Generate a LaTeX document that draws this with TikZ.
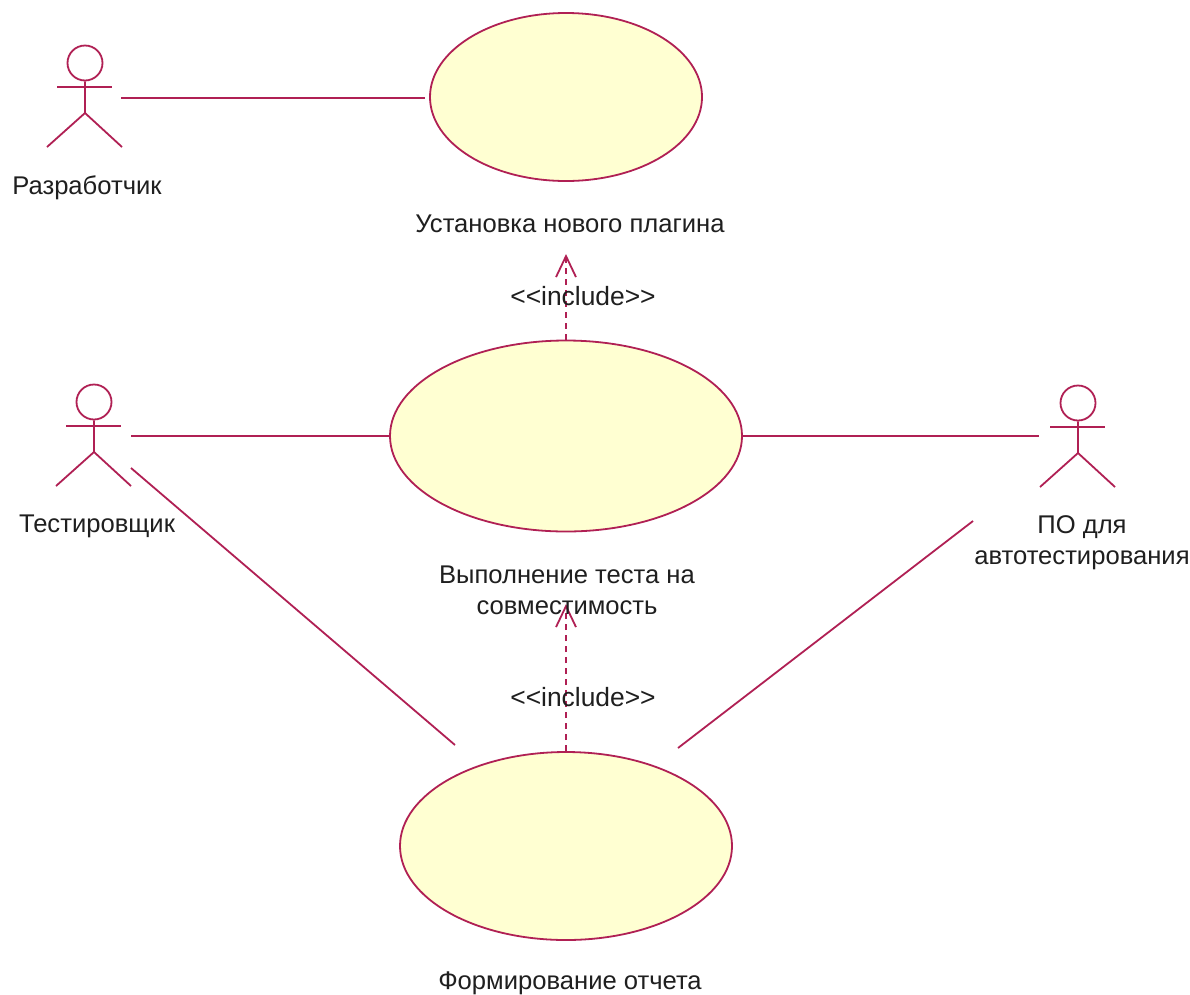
\documentclass[tikz,border=0pt]{standalone}
\usepackage{fontspec}
\setmainfont{Liberation Sans}
\usetikzlibrary{arrows.meta,shapes.geometric}
\definecolor{umlline}{RGB}{176,32,84}
\definecolor{umlfill}{RGB}{255,255,210}
\tikzset{
  usecase/.style={ellipse,draw=umlline,fill=umlfill,line width=1.8pt,inner sep=0pt},
  actorline/.style={draw=umlline,line width=1.8pt},
  assoc/.style={draw=umlline,line width=1.8pt},
  incl/.style={draw=umlline,line width=1.8pt,dash pattern=on 6pt off 5pt,-{Straight Barb[length=21pt,width=20pt,line width=1.8pt]}},
  lbl/.style={font=\fontsize{25.6}{31}\selectfont,text=black!88,align=center,inner sep=0pt},
  incllbl/.style={lbl,font=\fontsize{26.4}{31}\selectfont}
}
\newcommand{\umlactor}[2]{%
  \begin{scope}[shift={(#1)}]
    \node[name=#2head,circle,actorline,minimum size=35pt,inner sep=0pt] at (0,0) {};
    \draw[actorline] (#2head.south) -- (0,50) -- (-38,84);
    \draw[actorline] (0,50) -- (37,84);
    \draw[actorline] (-28,24) -- (27,24);
  \end{scope}}
\begin{document}
\begin{tikzpicture}[x=1pt,y=-1pt]
\useasboundingbox (0,0) rectangle (1190,994);
\fill[white] (0,0) rectangle (1190,994);
\node[usecase,minimum width=272pt,minimum height=168pt] (uc1) at (566,97) {};
\node[usecase,minimum width=352pt,minimum height=191pt] (uc2) at (566,436) {};
\node[usecase,minimum width=332pt,minimum height=188pt] (uc3) at (566,846) {};
\umlactor{85,63}{aone}
\umlactor{94,402}{atwo}
\umlactor{1078,403}{athree}
\coordinate (a1r) at (121,98);
\coordinate (u1l) at (425,98);
\coordinate (a2r) at (131,436);
\coordinate (a3l) at (1039,436);
\coordinate (a2d) at (131,468);
\coordinate (u3a) at (455,745);
\coordinate (a3d) at (973,521);
\coordinate (u3b) at (678,748);
\coordinate (t1) at (566,254);
\coordinate (t2) at (566,604);
\draw[assoc] (a1r) -- (u1l);
\draw[assoc] (a2r) -- (uc2.west);
\draw[assoc] (uc2.east) -- (a3l);
\draw[assoc] (a2d) -- (u3a);
\draw[assoc] (a3d) -- (u3b);
\draw[incl] (uc2.north) -- (t1);
\draw[incl] (uc3.north) -- (t2);
\node[lbl] (n1) at (87,187.5) {Разработчик};
\node[lbl] (n2) at (570,224) {Установка нового плагина};
\node[incllbl] (i1) at (583,296) {<{}<include>{}>};
\node[lbl] (n3) at (97,526) {Тестировщик};
\node[lbl] (n4) at (567,590) {Выполнение теста на\\совместимость};
\node[lbl] (n5) at (1082,543) {ПО для\\автотестирования};
\node[incllbl] (i2) at (583,697) {<{}<include>{}>};
\node[lbl] (n6) at (570,983) {Формирование отчета};
\end{tikzpicture}
\end{document}
